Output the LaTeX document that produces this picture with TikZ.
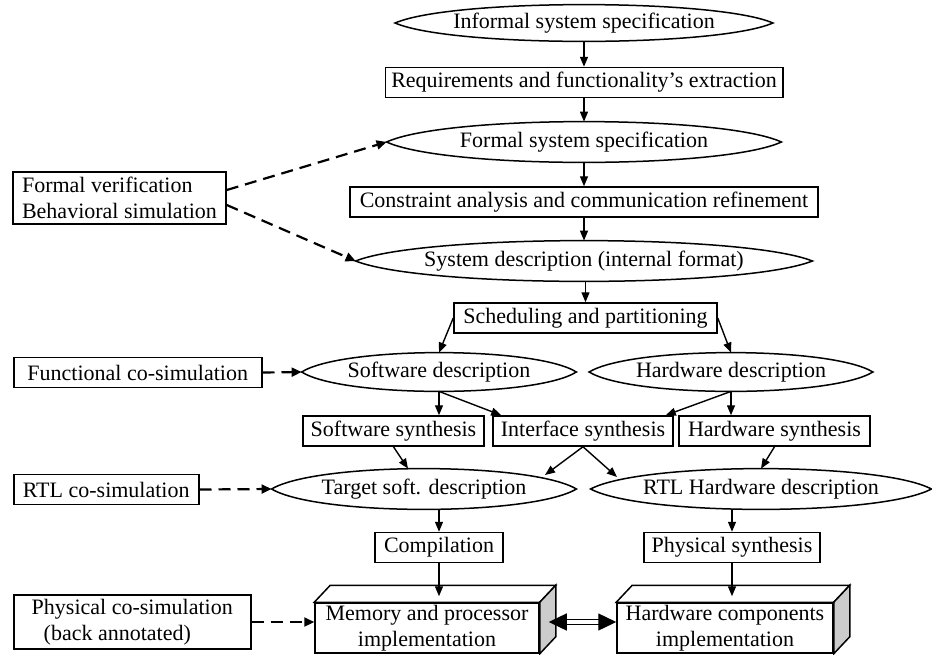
\documentclass[tikz,border=0pt]{standalone}
\usepackage{fontspec}
\setmainfont{Liberation Serif}
\usetikzlibrary{shapes.geometric, arrows.meta, positioning, calc}

\tikzset{
  % Process steps
  procbox/.style={
    rectangle, draw=black, line width=0.75pt, minimum height=15pt,
    inner xsep=3pt, inner ysep=1pt, font=\fontsize{11}{13}\selectfont,
    align=center,
  },
  % Specifications and descriptions (pointed ellipse outline)
  specnode/.style={
    ellipse, inner sep=0pt, font=\fontsize{11}{13}\selectfont, align=center,
    append after command={\pgfextra{
      \draw[line width=0.75pt] (\tikzlastnode.west)
        .. controls ($(\tikzlastnode.west)!0.15!(\tikzlastnode.east)
                      + 1.333*(\tikzlastnode.north) - 1.333*(\tikzlastnode.center)$)
        and ($(\tikzlastnode.west)!0.85!(\tikzlastnode.east)
                      + 1.333*(\tikzlastnode.north) - 1.333*(\tikzlastnode.center)$)
        .. (\tikzlastnode.east)
        .. controls ($(\tikzlastnode.west)!0.85!(\tikzlastnode.east)
                      + 1.333*(\tikzlastnode.south) - 1.333*(\tikzlastnode.center)$)
        and ($(\tikzlastnode.west)!0.15!(\tikzlastnode.east)
                      + 1.333*(\tikzlastnode.south) - 1.333*(\tikzlastnode.center)$)
        .. (\tikzlastnode.west) -- cycle;
    }},
  },
  % Verification / simulation boxes
  simbox/.style={procbox, align=left},
  % Implementation blocks (front face)
  implbox/.style={procbox, inner ysep=0pt, minimum width=112pt, minimum height=25pt},
  % Arrows
  myarrow/.style={-{Triangle[length=5pt, width=4pt]}, line width=0.7pt},
  dasharrow/.style={-{Triangle[length=5pt, width=4.5pt]}, line width=1.1pt,
    dash pattern=on 6pt off 3.5pt},
  biarrow/.style={{Triangle[length=9pt, width=8.5pt]}-{Triangle[length=9pt, width=8.5pt]},
    double, double distance=2pt, line width=0.7pt},
  faceline/.style={line width=0.75pt, line join=miter},
}

\begin{document}
\begin{tikzpicture}[x=0.5pt, y=-0.5pt]
  \useasboundingbox (0,0) rectangle (932,654);

  % Specification flow
  \node[specnode, minimum width=188.5pt, minimum height=18pt] (inf) at (584,23)
    {Informal system specification};
  \node[procbox, minimum width=197pt] (req) at (584,82.5)
    {Requirements and functionality's extraction};
  \node[specnode, minimum width=197pt, minimum height=20pt] (fss) at (584,142)
    {Formal system specification};
  \node[procbox, minimum width=234pt] (con) at (584,202)
    {Constraint analysis and communication refinement};
  \node[specnode, minimum width=228pt, minimum height=20pt] (sys) at (584,261)
    {System description (internal format)};
  \node[procbox, minimum width=131.5pt] (sch) at (585.5,318)
    {Scheduling and partitioning};

  % Software / hardware split
  \node[specnode, minimum width=137pt, minimum height=19pt] (swd) at (439,372)
    {Software description};
  \node[specnode, minimum width=141.5pt, minimum height=19pt] (hwd) at (731,372)
    {Hardware description};
  \node[procbox, minimum width=90.5pt] (sws) at (393.5,431) {Software synthesis};
  \node[procbox, minimum width=90pt] (ifs) at (583,431) {Interface synthesis};
  \node[procbox, minimum width=95.5pt] (hws) at (774.5,431) {Hardware synthesis};
  \node[specnode, minimum width=152pt, minimum height=20pt] (tsd) at (424,489)
    {Target soft. description};
  \node[specnode, minimum width=170pt, minimum height=20pt] (rtl) at (761,489)
    {RTL Hardware description};
  \node[procbox, minimum width=64pt] (comp) at (439,547.5) {Compilation};
  \node[procbox, minimum width=88pt] (phy) at (732,547.5) {Physical synthesis};

  % Implementation blocks
  \node[implbox] (mem) at (427,628) {Memory and processor\\implementation};
  \node[implbox, minimum width=108pt] (hwc) at (725,628)
    {Hardware components\\implementation};
  \draw[faceline, fill=white] (mem.north west) -- ++(16,-17)
    -- ($(mem.north east)+(16,-17)$) -- (mem.north east) -- cycle;
  \draw[faceline, fill=gray!40] (mem.north east) -- ++(16,-17)
    -- ($(mem.south east)+(16,-17)$) -- (mem.south east) -- cycle;
  \draw[faceline, fill=white] (hwc.north west) -- ++(16,-17)
    -- ($(hwc.north east)+(16,-17)$) -- (hwc.north east) -- cycle;
  \draw[faceline, fill=gray!40] (hwc.north east) -- ++(16,-17)
    -- ($(hwc.south east)+(16,-17)$) -- (hwc.south east) -- cycle;

  % Verification and co-simulation
  \node[simbox, minimum width=106.5pt, minimum height=26pt] (fvb) at (119.5,198)
    {Formal verification\\Behavioral simulation};
  \node[procbox, anchor=west, minimum width=124pt] (fcs) at (13,372.5)
    {Functional co-simulation};
  \node[procbox, anchor=west, minimum width=92.5pt] (rcs) at (13,489.5)
    {RTL co-simulation};
  \node[simbox, anchor=west, minimum width=118.5pt, minimum height=27pt] (pcs) at (13,622)
    {Physical co-simulation\\\hspace*{6pt}(back annotated)};

  % Flow arrows
  \draw[myarrow] (inf) -- (req);
  \draw[myarrow] (req) -- (fss);
  \draw[myarrow] (fss) -- (con);
  \draw[myarrow] (con) -- (sys);
  \draw[myarrow] (sys.south -| sch.north) -- (sch.north);
  \draw[myarrow] (sch.west) -- (swd.north);
  \draw[myarrow] (sch.east) -- (hwd.north);
  \draw[myarrow] (swd.south) -- (swd.south |- sws.north);
  \draw[myarrow] (swd.south) -- ($(ifs.north west)+(9,0)$);
  \draw[myarrow] (hwd.south) -- (hwd.south |- hws.north);
  \draw[myarrow] (hwd.south) -- ($(ifs.north east)+(-8,0)$);
  \draw[myarrow] (sws.south) -- ($(tsd.north)+(-16,0)$);
  \draw[myarrow] (ifs.south) -- ($(tsd.center)+(121,-14)$);
  \draw[myarrow] (ifs.south) -- ($(rtl.center)+(-144,-12)$);
  \draw[myarrow] (hws.south) -- (rtl.north);
  \draw[myarrow] (comp.north |- tsd.south) -- (comp.north);
  \draw[myarrow] (phy.north |- rtl.south) -- (phy.north);
  \draw[myarrow] (comp.south) -- ($(comp.south |- mem.north)+(0,-6)$);
  \draw[myarrow] (phy.south) -- ($(phy.south |- hwc.north)+(0,-6)$);
  \draw[biarrow] ($(mem.east)+(9,-6)$) -- ($(hwc.west)+(0,-6)$);

  % Dashed links
  \draw[dasharrow] ($(fvb.east)+(0,-8)$) -- (fss.west);
  \draw[dasharrow] ($(fvb.east)+(0,7)$) -- (sys.west);
  \draw[dasharrow] (fcs.east) -- (swd.west);
  \draw[dasharrow] (rcs.east) -- (tsd.west);
  \draw[dasharrow] (pcs.east) -- (pcs.east -| mem.west);
\end{tikzpicture}
\end{document}
